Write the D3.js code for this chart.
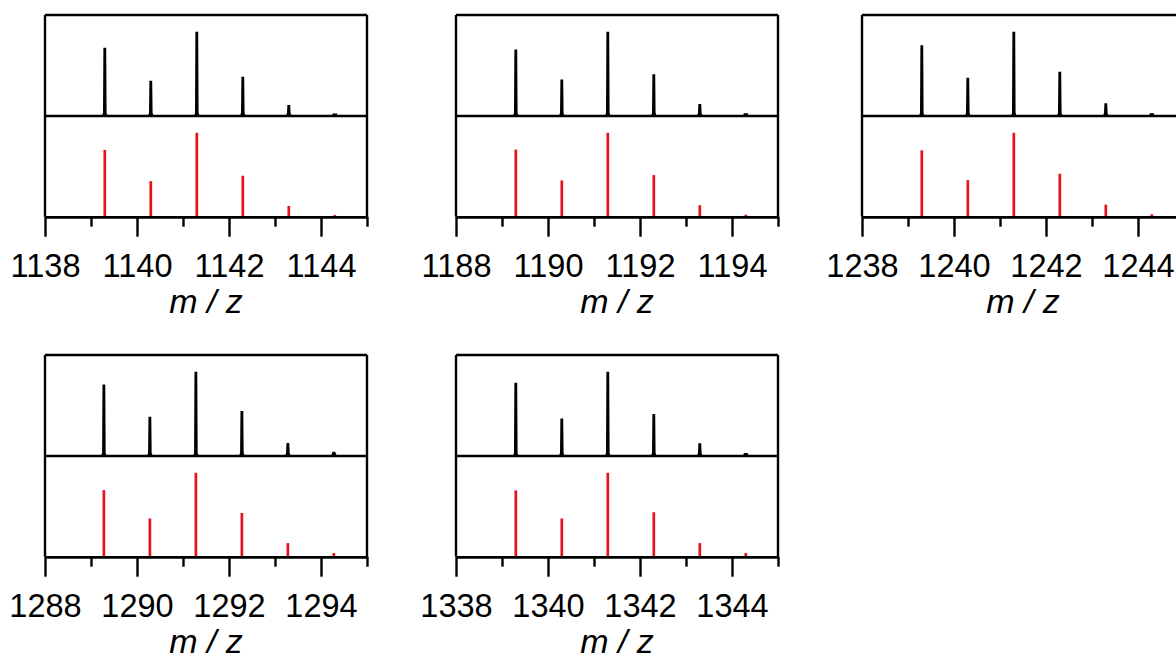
<!DOCTYPE html>
<html>
<head>
<meta charset="utf-8">
<script src="https://cdn.jsdelivr.net/npm/d3@7"></script>
<style>
  html, body { margin: 0; padding: 0; background: #fff; }
  svg { display: block; }
</style>
</head>
<body>
<svg id="chart" width="1176" height="659"></svg>
<script>
// Isotope patterns: measured (black, upper half) vs. simulated (red sticks, lower half)
const axisStarts = [1138, 1188, 1238, 1288, 1338];
const peakMz = [
  [1139.3, 1140.3, 1141.3, 1142.3, 1143.3, 1144.3],
  [1189.3, 1190.3, 1191.3, 1192.3, 1193.3, 1194.3],
  [1239.3, 1240.3, 1241.3, 1242.3, 1243.3, 1244.3],
  [1289.28, 1290.28, 1291.28, 1292.28, 1293.28, 1294.28],
  [1339.3, 1340.3, 1341.3, 1342.3, 1343.3, 1344.3]
];
const measured = [
  [81.0, 41.9, 100, 46.6, 13.0, 3.0],
  [79.1, 43.5, 100, 49.5, 14.2, 3.2],
  [84.2, 45.4, 100, 52.6, 15.1, 3.2],
  [85.0, 46.6, 100, 53.4, 15.4, 5.0],
  [87.1, 44.5, 100, 50.0, 15.2, 3.5]
];
const simulated = [
  [79.6, 42.4, 100, 48.8, 12.8, 2.0],
  [80.0, 43.2, 100, 49.6, 13.7, 2.4],
  [79.1, 43.6, 100, 51.2, 14.4, 2.9],
  [79.4, 45.5, 100, 52.1, 16.2, 4.4],
  [79.0, 45.5, 100, 53.0, 16.2, 4.4]
];
const axisTitle = "m / z";

// panel placement (top-left corner of each frame)
const panelPos = [[45, 15], [456, 15], [862, 15], [45, 355], [456, 355]];
const W = 322, H = 201.7, mid = 101;
const RED = "#e3141c";
const FONT = "'Liberation Sans', Arial, sans-serif";

const svg = d3.select("#chart");

axisStarts.forEach((start, i) => {
  const g = svg.append("g").attr("transform", `translate(${panelPos[i][0]},${panelPos[i][1]})`);
  const x = d3.scaleLinear().domain([start, start + 7]).range([0, W]);
  const yTop = d3.scaleLinear().domain([0, 120]).range([mid, 0]);
  const yBot = d3.scaleLinear().domain([0, 120]).range([H, mid]);

  // measured peaks: narrow profiles with a slightly broadened foot
  const peaks = d3.zip(peakMz[i], measured[i]);
  g.selectAll("path.exp").data(peaks).join("path")
    .attr("class", "exp")
    .attr("fill", "#000")
    .attr("d", d => {
      const cx = x(d[0]), base = yTop(0), top = yTop(d[1]);
      const p = d3.path();
      p.moveTo(cx - 3, base);
      p.lineTo(cx - 1.8, base - 3);
      p.lineTo(cx - 1.4, top);
      p.lineTo(cx + 1.4, top);
      p.lineTo(cx + 1.8, base - 3);
      p.lineTo(cx + 3, base);
      p.closePath();
      return p.toString();
    });

  // simulated sticks
  g.selectAll("line.sim").data(d3.zip(peakMz[i], simulated[i])).join("line")
    .attr("class", "sim")
    .attr("x1", d => x(d[0])).attr("x2", d => x(d[0]))
    .attr("y1", yBot(0)).attr("y2", d => yBot(d[1]))
    .attr("stroke", RED).attr("stroke-width", 2.7);

  // frame: top edge, sides and the divider between the two traces
  const frame = g.append("g").attr("stroke", "#000").attr("stroke-width", 2.4).attr("fill", "none");
  frame.append("line").attr("x1", 0).attr("x2", W).attr("y1", 0).attr("y2", 0);
  frame.append("line").attr("x1", 0).attr("x2", 0).attr("y1", 0).attr("y2", H);
  frame.append("line").attr("x1", W).attr("x2", W).attr("y1", 0).attr("y2", H);
  frame.append("line").attr("x1", 0).attr("x2", W).attr("y1", yTop(0)).attr("y2", yTop(0));

  // bottom axis: long labelled ticks on even values, short ones on odd values
  const major = d3.range(start, start + 8, 2);
  const minor = d3.range(start + 1, start + 8, 2);
  const axMinor = g.append("g").attr("transform", `translate(0,${H})`)
    .call(d3.axisBottom(x).tickValues(minor).tickSize(10).tickSizeOuter(0).tickFormat(""));
  const axMajor = g.append("g").attr("transform", `translate(0,${H})`)
    .call(d3.axisBottom(x).tickValues(major).tickSize(20).tickSizeOuter(0).tickFormat(d3.format("d")));
  [axMinor, axMajor].forEach(ax => {
    ax.select(".domain").attr("stroke", "#000").attr("stroke-width", 2.4);
    ax.selectAll(".tick line").attr("stroke", "#000").attr("stroke-width", 2.4);
  });
  axMajor.selectAll(".tick text")
    .attr("y", 60).attr("dy", null)
    .attr("fill", "#000")
    .style("font-family", FONT).style("font-size", "32.5px");

  g.append("text")
    .attr("x", W / 2).attr("y", H + 96)
    .attr("text-anchor", "middle")
    .style("font-family", FONT).style("font-size", "34px").style("font-style", "italic")
    .text(axisTitle);
});
</script>
</body>
</html>
